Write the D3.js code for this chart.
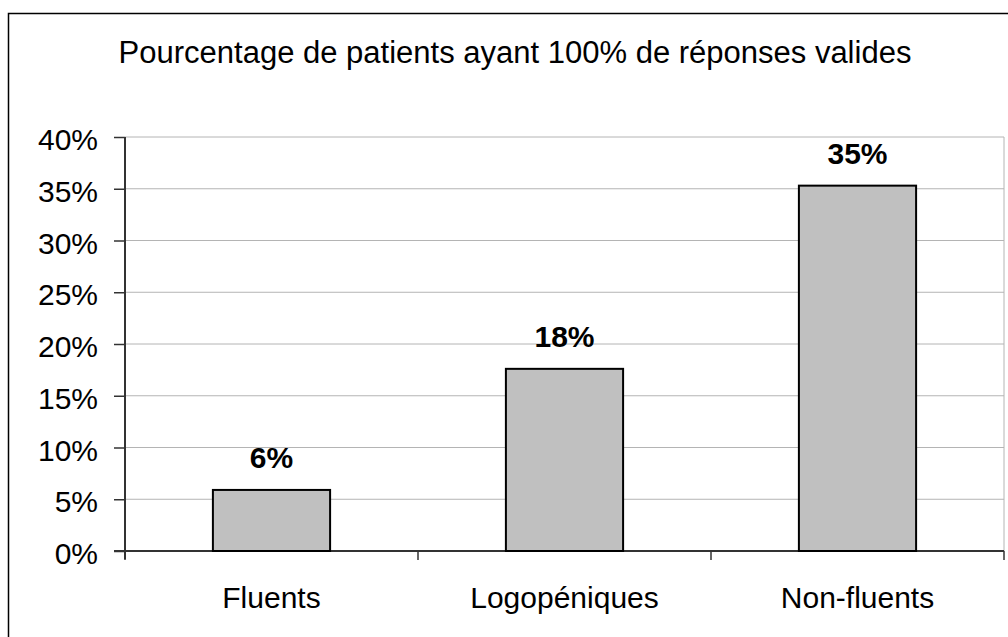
<!DOCTYPE html>
<html>
<head>
<meta charset="utf-8">
<script src="https://cdn.jsdelivr.net/npm/d3@7"></script>
<style>
  body { margin: 0; background: #fff; }
  svg text { font-family: 'Liberation Sans', Arial, sans-serif; fill: #000; }
</style>
</head>
<body>
<svg id="chart" width="1008" height="637"></svg>
<script>
const title = 'Pourcentage de patients ayant 100% de réponses valides'
const categories = ['Fluents', 'Logopéniques', 'Non-fluents']
const values = [0.059, 0.176, 0.353]
const labels = ['6%', '18%', '35%']
const yTicks = [0, 0.05, 0.1, 0.15, 0.2, 0.25, 0.3, 0.35, 0.4]

const svg = d3.select('#chart')
const plot = { left: 125, right: 1004, top: 137, bottom: 551 }

// outer frame (runs off the right and bottom edges)
svg.append('rect')
  .attr('x', 8.5).attr('y', 13.5)
  .attr('width', 1040).attr('height', 700)
  .attr('fill', 'none').attr('stroke', '#000').attr('stroke-width', 1.5)

svg.append('text')
  .attr('x', 515).attr('y', 63)
  .attr('text-anchor', 'middle')
  .style('font-size', '31px')
  .text(title)

const x = d3.scaleBand()
  .domain(categories)
  .range([plot.left, plot.right])
  .paddingInner(0.6).paddingOuter(0.3)

const xCat = d3.scaleBand()
  .domain(categories)
  .range([plot.left, plot.right])

const y = d3.scaleLinear()
  .domain([0, 0.4])
  .range([plot.bottom, plot.top])

// gridlines
svg.append('g')
  .selectAll('line')
  .data(yTicks.filter(d => d > 0))
  .join('line')
  .attr('x1', plot.left).attr('x2', plot.right)
  .attr('y1', d => y(d)).attr('y2', d => y(d))
  .attr('stroke', '#b4b4b4').attr('stroke-width', 1)

// right border of plot area
svg.append('line')
  .attr('x1', plot.right).attr('x2', plot.right)
  .attr('y1', plot.top).attr('y2', plot.bottom)
  .attr('stroke', '#b4b4b4').attr('stroke-width', 1)

const yAxis = d3.axisLeft(y)
  .tickValues(yTicks)
  .tickSize(11)
  .tickPadding(16)
  .tickFormat(d3.format('.0%'))

svg.append('g')
  .attr('transform', `translate(${plot.left},0)`)
  .call(yAxis)
  .call(g => {
    g.select('.domain').attr('stroke', '#333').attr('stroke-width', 2)
      .attr('d', `M0,${plot.top}V${plot.bottom + 8}`)
    g.selectAll('.tick line').attr('stroke', '#333').attr('stroke-width', 1.5)
    g.selectAll('.tick text')
      .style('font-size', '30px')
      .attr('dy', '0.42em')
      .attr('fill', '#000')
  })

// x axis: ticks at category boundaries
const boundaries = categories.map(c => xCat(c)).concat([plot.right])
const xg = svg.append('g')
xg.append('line')
  .attr('x1', plot.left - 11).attr('x2', plot.right)
  .attr('y1', plot.bottom).attr('y2', plot.bottom)
  .attr('stroke', '#333').attr('stroke-width', 2)
xg.selectAll('.xtick')
  .data(boundaries)
  .join('line')
  .attr('class', 'xtick')
  .attr('x1', d => d).attr('x2', d => d)
  .attr('y1', plot.bottom).attr('y2', plot.bottom + 9)
  .attr('stroke', '#333').attr('stroke-width', 1.5)
xg.selectAll('text')
  .data(categories)
  .join('text')
  .attr('x', d => xCat(d) + xCat.bandwidth() / 2)
  .attr('y', 608)
  .attr('text-anchor', 'middle')
  .style('font-size', '30px')
  .text(d => d)

// bars
svg.append('g')
  .selectAll('rect')
  .data(values)
  .join('rect')
  .attr('x', (d, i) => x(categories[i]))
  .attr('width', x.bandwidth())
  .attr('y', d => y(d))
  .attr('height', d => y(0) - y(d))
  .attr('fill', '#c0c0c0')
  .attr('stroke', '#000').attr('stroke-width', 2)

// value labels
svg.append('g')
  .selectAll('text')
  .data(values)
  .join('text')
  .attr('x', (d, i) => x(categories[i]) + x.bandwidth() / 2)
  .attr('y', d => y(d) - 22)
  .attr('text-anchor', 'middle')
  .style('font-size', '30px')
  .style('font-weight', 'bold')
  .text((d, i) => labels[i])
</script>
</body>
</html>
